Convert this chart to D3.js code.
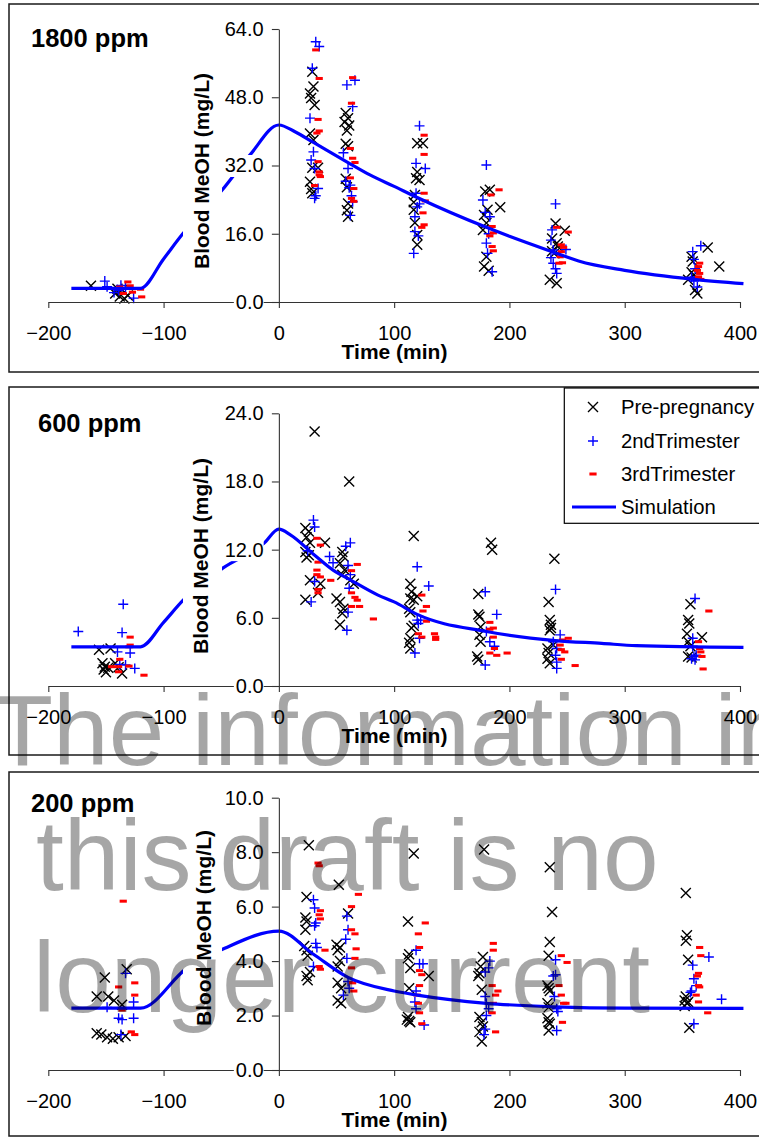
<!DOCTYPE html>
<html>
<head>
<meta charset="utf-8">
<script src="https://cdn.jsdelivr.net/npm/d3@7"></script>
<style>
  body { margin: 0; background: #fff; }
  svg { display: block; }
  text { font-family: "Liberation Sans", Arial, sans-serif; }
</style>
</head>
<body>
<svg id="chart" width="759" height="1137"></svg>
<script>
// ---- data ----
const timeTicks = [-200, -100, 0, 100, 200, 300, 400];
const panelLabels = ["1800 ppm", "600 ppm", "200 ppm"];
const yTicks1800 = [0, 16, 32, 48, 64];
const yTicks600 = [0, 6, 12, 18, 24];
const yTicks200 = [0, 2, 4, 6, 8, 10];
const xTitle = "Time (min)";
const yTitle = "Blood MeOH (mg/L)";
const legendLabels = ["Pre-pregnancy", "2ndTrimester", "3rdTrimester", "Simulation"];
const watermarkLines = ["The information in", "this draft is no", "longer current"];

// simulated blood methanol, [time (min), mg/L]
const sim1800 = [[-180,3.2],[-120,3.2],[-100,10.1],[-83,16.1],[-60,22.8],[-49,26.3],[-25,34.5],[0,41.5],
  [14,39.9],[30,37.4],[60,32.7],[79,29.8],[100,27.1],[120,24.5],[180,17.5],[200,15.4],[240,11.5],[260,9.6],
  [300,7.4],[360,5.3],[403,4.3]];
const sim600 = [[-180,3.45],[-120,3.45],[-100,5.6],[-83,7.55],[-49,10.35],[-13,12.55],[0,13.8],[10,13.3],
  [30,11.6],[49,10.06],[60,9.45],[86,8.0],[100,7.4],[120,6.3],[180,4.8],[240,4.0],[280,3.75],[310,3.55],[403,3.4]];
const sim200 = [[-180,2.27],[-120,2.27],[-80,3.73],[-47,4.47],[0,5.1],[30,4.25],[60,3.4],[100,2.9],
  [120,2.75],[180,2.45],[240,2.32],[300,2.27],[403,2.26]];

// observed blood methanol, [time (min), mg/L]
const prePreg1800 = [[-163,3.8],[-142,2.0],[-138,1.3],[-136,2.8],[-134,0.8],[-140,3.1],[-131,1.5],
  [29,54.0],[30,50.5],[27,48.9],[28,47.8],[31,46.2],[27,39.5],[30,38.0],[29,31.5],[34,31.5],[27,28.2],[28,26.5],[29,25.5],
  [58,44.3],[60,43.1],[57,42.2],[61,41.4],[59,40.2],[58,37.1],[60,36.5],[58,28.9],[59,26.9],[60,23.1],[59,21.5],[60,20.0],
  [120,37.2],[125,37.2],[120,30.5],[119,29.0],[122,28.6],[118,25.1],[117,23.4],[117,21.6],[120,15.7],[120,13.4],[118,18.6],
  [179,25.9],[183,26.3],[192,22.2],[181,21.6],[178,20.4],[177,16.9],[180,10.6],[178,8.3],[182,7.3],[180,18.5],
  [240,18.4],[248,16.7],[237,14.9],[241,13.8],[242,13.0],[237,11.9],[235,5.2],[241,4.4],[239,11.4],
  [358,10.6],[359,9.5],[372,12.8],[382,8.3],[355,5.2],[361,2.8],[363,2.0],[360,6.3],[358,7.0]];
const trim2_1800 = [[-151,4.9],[-149,3.6],[-137,3.9],[-139,2.7],[-133,3.3],[-126,0.9],[-143,2.2],
  [32,61.0],[35,59.9],[29,54.8],[27,43.1],[30,35.2],[28,33.3],[31,31.3],[34,26.6],[31,24.3],[32,24.9],
  [59,50.9],[66,52.0],[64,45.8],[56,35.0],[60,31.3],[58,28.3],[62,27.4],[61,26.8],[63,24.9],[64,23.5],[62,20.3],
  [122,41.3],[119,32.5],[127,31.3],[119,25.5],[120,22.3],[118,20.0],[118,16.5],[121,15.5],[117,11.4],[122,23.0],
  [180,32.1],[177,23.9],[183,20.0],[179,21.0],[180,13.8],[181,11.4],[185,7.1],[182,16.0],
  [240,23.0],[237,16.9],[238,12.2],[236,10.4],[238,9.1],[241,6.7],[236,14.5],[249,12.3],[240,7.8],
  [366,13.2],[359,11.8],[360,10.0],[361,7.8],[360,4.9],[358,5.8],[363,3.5]];
const trim3_1800 = [[-138,3.5],[-131,4.7],[-129,3.8],[-127,2.3],[-120,3.0],[-119,1.2],[-135,2.0],
  [32,59.1],[35,52.4],[34,42.8],[35,40.1],[33,39.6],[34,32.9],[35,30.5],[35,29.8],[31,27.3],[36,29.4],
  [64,52.6],[63,46.6],[62,36.0],[64,33.7],[66,32.7],[62,29.1],[65,26.6],[63,24.3],[65,23.6],
  [126,39.1],[126,34.6],[126,25.5],[127,23.7],[125,20.9],[126,18.1],[124,17.5],
  [191,26.3],[184,25.1],[185,17.7],[186,16.2],[183,15.5],[185,13.0],[186,12.0],
  [241,17.5],[251,16.4],[245,13.4],[247,12.8],[245,11.8],[244,10.6],[243,9.1],[246,9.2],
  [365,9.1],[364,8.3],[365,6.7],[364,5.9],[366,5.3],[363,7.4]];

const prePreg600 = [[-156,3.2],[-146,3.3],[-153,2.0],[-151,1.7],[-152,1.45],[-150,1.2],[-142,2.0],[-139,1.65],[-136,1.1],[-148,1.6],
  [31,22.4],[23,13.9],[26,13.6],[24,13.1],[27,12.6],[23,11.8],[26,11.5],[24,11.3],[40,12.6],[27,9.3],[36,9.0],[23,7.6],[34,8.2],
  [61,18.0],[55,11.8],[56,11.4],[53,10.8],[57,10.2],[55,9.8],[62,9.3],[65,9.0],[50,7.7],[53,7.4],[56,6.8],[55,6.4],[53,5.4],
  [117,13.2],[114,9.0],[115,8.3],[114,7.7],[117,7.6],[120,7.9],[113,6.8],[114,6.5],[117,5.3],[115,5.1],[114,4.2],[113,3.8],[114,3.3],
  [184,12.6],[185,12.0],[173,8.1],[173,6.3],[174,6.1],[175,5.2],[174,4.5],[175,3.9],[172,2.6],[173,2.3],
  [239,11.2],[234,7.4],[235,5.8],[236,5.4],[236,5.1],[235,4.9],[233,3.3],[234,2.9],[233,2.4],[235,2.0],[238,3.6],
  [357,7.2],[355,5.8],[356,5.5],[354,4.6],[367,4.3],[355,3.9],[357,3.5],[355,2.6],[358,2.5]];
const trim2_600 = [[-174,4.8],[-135,7.2],[-136,4.7],[-129,2.9],[-133,1.85],[-125,1.55],[-138,1.9],[-140,3.0],
  [30,14.6],[31,14.0],[44,11.4],[47,10.85],[28,7.4],[31,9.2],[25,11.9],
  [58,12.3],[62,12.6],[60,10.6],[62,9.8],[60,6.5],[59,4.9],[61,8.6],
  [120,10.5],[130,8.8],[120,5.8],[123,5.8],[122,4.2],[118,2.9],[121,5.5],
  [179,8.3],[189,6.3],[183,3.9],[187,3.5],[179,1.85],[180,4.8],
  [240,8.5],[244,4.5],[241,3.3],[240,2.7],[241,2.1],[241,1.55],[238,3.9],
  [361,7.7],[359,4.2],[359,3.5],[360,2.6],[361,2.3],[358,2.4],[362,2.7]];
const trim3_600 = [[-129,4.3],[-129,3.6],[-130,3.45],[-138,2.35],[-139,1.7],[-145,1.7],[-130,1.75],[-117,0.95],[-139,1.25],
  [33,13.0],[36,12.4],[34,10.9],[33,10.2],[33,9.8],[36,9.6],[45,9.3],[34,8.5],[34,8.2],
  [68,10.7],[63,10.15],[63,8.2],[66,7.8],[68,7.55],[63,7.0],[70,7.0],[82,5.9],
  [124,8.0],[128,7.0],[125,6.6],[128,5.7],[121,4.6],[124,4.3],[135,4.6],[136,4.3],[136,4.1],
  [183,5.6],[186,5.1],[183,5.0],[186,4.3],[187,3.3],[183,2.9],[189,2.7],[198,2.9],
  [246,4.05],[244,3.6],[245,3.2],[248,3.0],[251,4.2],[245,2.35],[257,1.8],
  [373,6.6],[364,3.9],[365,3.3],[366,3.0],[367,2.6],[368,1.5]];

const prePreg200 = [[-158,2.7],[-151,3.4],[-148,2.7],[-143,2.55],[-132,3.7],[-136,2.4],[-158,1.35],[-154,1.3],[-149,1.2],[-144,1.15],[-139,1.2],[-133,1.25],
  [26,8.25],[24,6.35],[23,5.6],[24,5.45],[23,5.15],[22,4.55],[24,4.4],[25,4.2],[27,3.6],[24,3.45],[25,3.3],
  [52,6.8],[60,5.75],[50,4.6],[53,4.5],[51,4.4],[53,4.0],[51,3.8],[51,3.2],[54,3.0],[51,2.55],[54,2.45],
  [117,7.95],[112,5.45],[113,4.25],[112,4.1],[114,3.75],[130,3.45],[113,3.0],[112,1.95],[113,1.8],[114,1.75],[111,1.85],
  [178,8.1],[177,4.15],[175,3.8],[174,3.55],[173,3.45],[176,2.95],[174,1.95],[176,1.75],[177,1.6],[174,1.4],[176,1.05],
  [235,7.45],[237,5.8],[235,4.7],[234,4.2],[233,3.1],[234,3.0],[235,2.9],[233,2.45],[234,2.3],[233,1.9],[234,1.75],[235,1.7],[234,1.45],
  [353,6.5],[354,4.95],[353,4.75],[355,4.05],[353,2.7],[354,2.45],[352,2.35],[355,2.5],[356,1.55],[352,2.55]];
const trim2_200 = [[-149,2.3],[-133,3.55],[-126,2.5],[-139,1.9],[-136,1.85],[-126,1.9],[-137,1.3],
  [30,6.25],[32,5.4],[31,5.3],[32,4.65],[33,4.5],[30,3.8],[31,5.95],
  [59,5.65],[60,5.15],[58,4.8],[59,4.1],[60,3.25],[61,3.0],[56,2.75],
  [119,4.4],[125,3.9],[122,3.9],[119,2.9],[118,2.5],[119,2.25],[126,1.65],
  [183,4.0],[182,3.75],[179,3.6],[179,2.7],[180,2.45],[182,2.25],[180,2.0],[179,1.5],[178,1.3],
  [240,4.05],[238,3.45],[240,3.5],[239,2.7],[241,2.25],[242,2.15],[241,1.45],
  [373,4.15],[359,3.85],[360,3.35],[358,2.9],[357,2.85],[384,2.6],[360,1.7],[362,3.1]];
const trim3_200 = [[-135,6.2],[-139,3.05],[-125,3.2],[-125,2.75],[-136,2.2],[-128,1.4],[-125,1.3],
  [34,7.6],[35,7.5],[36,5.85],[35,5.7],[36,5.55],[40,4.4],[35,3.8],[36,3.7],
  [69,6.45],[63,6.0],[63,5.15],[66,5.0],[67,4.45],[66,4.1],[63,3.75],[64,3.2],[65,2.9],
  [127,5.4],[121,5.0],[122,4.5],[122,3.65],[124,3.5],[122,3.1],[120,2.75],[121,2.45],[122,2.1],[124,1.7],
  [186,4.65],[186,4.4],[185,3.1],[190,2.9],[188,2.75],[186,2.45],[185,2.1],[188,1.4],
  [245,4.2],[250,3.95],[243,3.1],[245,2.75],[247,2.45],[249,2.45],[246,1.75],
  [365,4.5],[366,4.2],[364,3.55],[363,3.45],[364,3.1],[365,3.05],[362,2.75],[364,2.5],[372,2.1]];

// ---- layout ----
const panels = [
  { label: panelLabels[0], ticks: yTicks1800, yMax: 64, base: 302, top: 29, box: [4, 372],
    labelXY: [31, 47], titleX: 208.5, titleY: 171,
    sim: sim1800, pre: prePreg1800, t2: trim2_1800, t3: trim3_1800 },
  { label: panelLabels[1], ticks: yTicks600, yMax: 24, base: 686, top: 413.3, box: [387, 755],
    labelXY: [38, 431.5], titleX: 207.5, titleY: 556,
    sim: sim600, pre: prePreg600, t2: trim2_600, t3: trim3_600 },
  { label: panelLabels[2], ticks: yTicks200, yMax: 10, base: 1070, top: 797.7, box: [772, 1136],
    labelXY: [31, 811.5], titleX: 210.5, titleY: 928,
    sim: sim200, pre: prePreg200, t2: trim2_200, t3: trim3_200 }
];

const svg = d3.select("#chart");
const x = d3.scaleLinear().domain([-200, 400]).range([48.3, 740]);
const BLUE = "#0000ff", RED = "#ff0000";

function drawCross(sel, cx, cy) {
  const s = 5;
  sel.append("path")
    .attr("d", `M${cx - s},${cy - s}L${cx + s},${cy + s}M${cx - s},${cy + s}L${cx + s},${cy - s}`)
    .attr("stroke", "#000").attr("stroke-width", 1.4).attr("fill", "none");
}
function drawPlus(sel, cx, cy) {
  const s = 5;
  sel.append("path")
    .attr("d", `M${cx - s},${cy}L${cx + s},${cy}M${cx},${cy - s}L${cx},${cy + s}`)
    .attr("stroke", BLUE).attr("stroke-width", 1.4).attr("fill", "none");
}
function drawDash(sel, cx, cy) {
  sel.append("rect").attr("x", cx - 3.6).attr("y", cy - 1.5)
    .attr("width", 7.2).attr("height", 3).attr("fill", RED);
}

panels.forEach(p => {
  const g = svg.append("g");
  const y = d3.scaleLinear().domain([0, p.yMax]).range([p.base, p.top]);

  // frame
  g.append("rect").attr("x", 9).attr("y", p.box[0])
    .attr("width", 770).attr("height", p.box[1] - p.box[0])
    .attr("fill", "#fff").attr("stroke", "#1a1a1a").attr("stroke-width", 1.5);

  // observed points
  const pts = g.append("g");
  p.pre.forEach(d => drawCross(pts, x(d[0]), y(d[1])));
  p.t2.forEach(d => drawPlus(pts, x(d[0]), y(d[1])));
  p.t3.forEach(d => drawDash(pts, x(d[0]), y(d[1])));

  // simulation curve
  const line = d3.line().x(d => x(d[0])).y(d => y(d[1])).curve(d3.curveMonotoneX);
  g.append("path").datum(p.sim).attr("d", line)
    .attr("fill", "none").attr("stroke", BLUE).attr("stroke-width", 3.2)
    .attr("stroke-linejoin", "round");

  // x axis
  const xa = g.append("g").attr("transform", `translate(0,${p.base})`)
    .call(d3.axisBottom(x).tickValues(timeTicks).tickSize(6).tickSizeOuter(0)
      .tickPadding(17.5).tickFormat(d3.format("d")));
  xa.selectAll("path,line").attr("stroke", "#333").attr("stroke-width", 1.1);
  xa.selectAll("text").attr("font-size", 20).attr("fill", "#000")
    .attr("font-family", '"Liberation Sans", Arial, sans-serif');

  // y axis (labels sit on an opaque background)
  const ya = g.append("g").attr("transform", `translate(${x(0)},0)`)
    .call(d3.axisLeft(y).tickValues(p.ticks).tickSize(7).tickSizeOuter(0)
      .tickPadding(8.2).tickFormat(d3.format(".1f")));
  ya.selectAll("path,line").attr("stroke", "#333").attr("stroke-width", 1.1);
  ya.selectAll("text").attr("font-size", 20).attr("fill", "#000")
    .attr("font-family", '"Liberation Sans", Arial, sans-serif');
  ya.selectAll(".tick").each(function () {
    const t = d3.select(this).select("text");
    const b = t.node().getBBox();
    d3.select(this).insert("rect", "text")
      .attr("x", b.x - 2).attr("y", -11).attr("width", b.width + 2).attr("height", 22)
      .attr("fill", "#fff");
  });

  // axis titles
  g.append("text").attr("x", 394.5).attr("y", p.base + 56.7)
    .attr("text-anchor", "middle").attr("font-size", 21).attr("font-weight", "bold")
    .text(xTitle);
  g.append("rect").attr("x", 183).attr("y", p.titleY - 99)
    .attr("width", 39).attr("height", 198).attr("fill", "#fff");
  g.append("text")
    .attr("transform", `translate(${p.titleX},${p.titleY}) rotate(-90)`)
    .attr("text-anchor", "middle").attr("font-size", 21).attr("font-weight", "bold")
    .text(yTitle);

  // panel label
  g.append("text").attr("x", p.labelXY[0]).attr("y", p.labelXY[1])
    .attr("font-size", 25.5).attr("font-weight", "bold").text(p.label);
});

// legend in the middle panel
const lg = svg.append("g");
lg.append("rect").attr("x", 564.3).attr("y", 388).attr("width", 220).attr("height", 135.3)
  .attr("fill", "#fff").attr("stroke", "#000").attr("stroke-width", 1.2);
const rowsY = [407, 441, 474, 507];
drawCross(lg, 593, rowsY[0]);
drawPlus(lg, 593, rowsY[1]);
drawDash(lg, 593, rowsY[2]);
lg.append("line").attr("x1", 572).attr("x2", 616).attr("y1", rowsY[3]).attr("y2", rowsY[3])
  .attr("stroke", BLUE).attr("stroke-width", 3.2);
legendLabels.forEach((t, i) => {
  lg.append("text").attr("x", 621).attr("y", rowsY[i] + 7.3)
    .attr("font-size", 20.3).text(t);
});

// watermark over the whole figure
const wm = svg.append("g").attr("fill", "#000").attr("fill-opacity", 0.35)
  .attr("font-size", 100);
const wmPos = [[-8, 765], [36, 890], [33, 1012]];
watermarkLines.forEach((t, i) => {
  wm.append("text").attr("x", wmPos[i][0]).attr("y", wmPos[i][1]).text(t);
});
</script>
</body>
</html>
